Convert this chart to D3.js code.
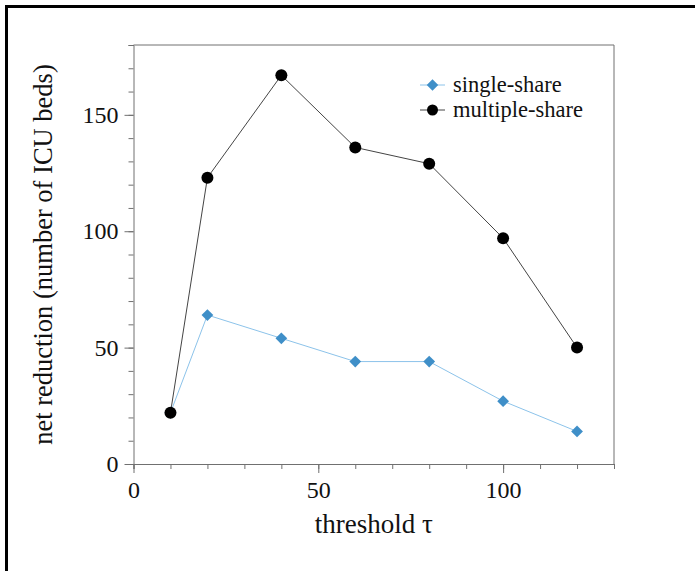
<!DOCTYPE html>
<html>
<head>
<meta charset="utf-8">
<script src="https://cdn.jsdelivr.net/npm/d3@7"></script>
<style>
  body { margin: 0; background: #fff; }
  svg text { font-family: "Liberation Serif", "DejaVu Serif", serif; fill: #111; }
</style>
</head>
<body>
<svg id="chart"></svg>
<script>
// Data
const thresholds = [10, 20, 40, 60, 80, 100, 120];
const singleShare = [22, 64, 54, 44, 44, 27, 14];
const multipleShare = [22, 123, 167, 136, 129, 97, 50];
const xMajorTicks = [0, 50, 100];
const yMajorTicks = [0, 50, 100, 150];

const width = 695, height = 571;
const margin = { top: 45, right: 81, bottom: 107, left: 133.5 };
const axisColor = "#707070";

const svg = d3.select("#chart")
    .attr("width", width)
    .attr("height", height);

// outer frame (only top and left edges are visible)
svg.append("path")
    .attr("d", `M6.5,${height} V6.5 H${width}`)
    .attr("fill", "none")
    .attr("stroke", "#000")
    .attr("stroke-width", 3);

const x = d3.scaleLinear().domain([0, 130]).range([margin.left, width - margin.right]);
const y = d3.scaleLinear().domain([0, 180]).range([height - margin.bottom, margin.top]);

// top and right frame of the plot
svg.append("path")
    .attr("d", `M${x(0)},${y(180)} H${x(130)} V${y(0)}`)
    .attr("fill", "none")
    .attr("stroke", axisColor);

function styleAxis(g) {
    g.select(".domain").attr("stroke", axisColor);
    g.selectAll(".tick line").attr("stroke", axisColor);
    g.selectAll(".tick text").attr("font-size", 24).attr("fill", "#111");
}

// x axis: minor then major ticks
svg.append("g")
    .attr("transform", `translate(0,${y(0)})`)
    .call(d3.axisBottom(x).tickValues(d3.range(0, 131, 10)).tickSize(5).tickFormat(""))
    .call(styleAxis);
svg.append("g")
    .attr("transform", `translate(0,${y(0)})`)
    .call(d3.axisBottom(x).tickValues(xMajorTicks).tickSize(9).tickPadding(8))
    .call(styleAxis)
    .call(g => g.select(".domain").remove());

// y axis
svg.append("g")
    .attr("transform", `translate(${x(0)},0)`)
    .call(d3.axisLeft(y).tickValues(d3.range(0, 181, 10)).tickSize(5).tickFormat(""))
    .call(styleAxis);
svg.append("g")
    .attr("transform", `translate(${x(0)},0)`)
    .call(d3.axisLeft(y).tickValues(yMajorTicks).tickSize(9).tickPadding(6))
    .call(styleAxis)
    .call(g => g.select(".domain").remove());

// axis labels
svg.append("text")
    .attr("x", (x(0) + x(130)) / 2)
    .attr("y", 533)
    .attr("text-anchor", "middle")
    .attr("font-size", 27)
    .text("threshold τ");

svg.append("text")
    .attr("transform", `translate(52,${(y(0) + y(180)) / 2}) rotate(-90)`)
    .attr("text-anchor", "middle")
    .attr("font-size", 26.5)
    .text("net reduction (number of ICU beds)");

const line = d3.line()
    .x((d, i) => x(thresholds[i]))
    .y(d => y(d));

const diamond = d3.symbol().type(d3.symbolDiamond2).size(88);

// single-share
svg.append("path")
    .datum(singleShare)
    .attr("d", line)
    .attr("fill", "none")
    .attr("stroke", "#8cc3ea")
    .attr("stroke-width", 1);
svg.selectAll(".single")
    .data(singleShare)
    .enter().append("path")
    .attr("class", "single")
    .attr("transform", (d, i) => `translate(${x(thresholds[i])},${y(d)})`)
    .attr("d", diamond)
    .attr("fill", "#3f8fc8");

// multiple-share
svg.append("path")
    .datum(multipleShare)
    .attr("d", line)
    .attr("fill", "none")
    .attr("stroke", "#444")
    .attr("stroke-width", 1);
svg.selectAll(".multiple")
    .data(multipleShare)
    .enter().append("circle")
    .attr("class", "multiple")
    .attr("cx", (d, i) => x(thresholds[i]))
    .attr("cy", d => y(d))
    .attr("r", 6)
    .attr("fill", "#000");

// legend
const legendItems = [
    { label: "single-share", line: "#8cc3ea", marker: "diamond", color: "#3f8fc8" },
    { label: "multiple-share", line: "#444", marker: "circle", color: "#000" }
];
const legend = svg.append("g").attr("transform", "translate(420,85)");
legendItems.forEach((item, i) => {
    const row = legend.append("g").attr("transform", `translate(0,${i * 25})`);
    row.append("line")
        .attr("x1", 0).attr("x2", 25)
        .attr("stroke", item.line);
    if (item.marker === "diamond") {
        row.append("path")
            .attr("transform", "translate(12.5,0)")
            .attr("d", d3.symbol().type(d3.symbolDiamond2).size(85))
            .attr("fill", item.color);
    } else {
        row.append("circle")
            .attr("cx", 12.5).attr("r", 5.5)
            .attr("fill", item.color);
    }
    row.append("text")
        .attr("x", 33)
        .attr("dy", "0.32em")
        .attr("font-size", 22.5)
        .text(item.label);
});
</script>
</body>
</html>
